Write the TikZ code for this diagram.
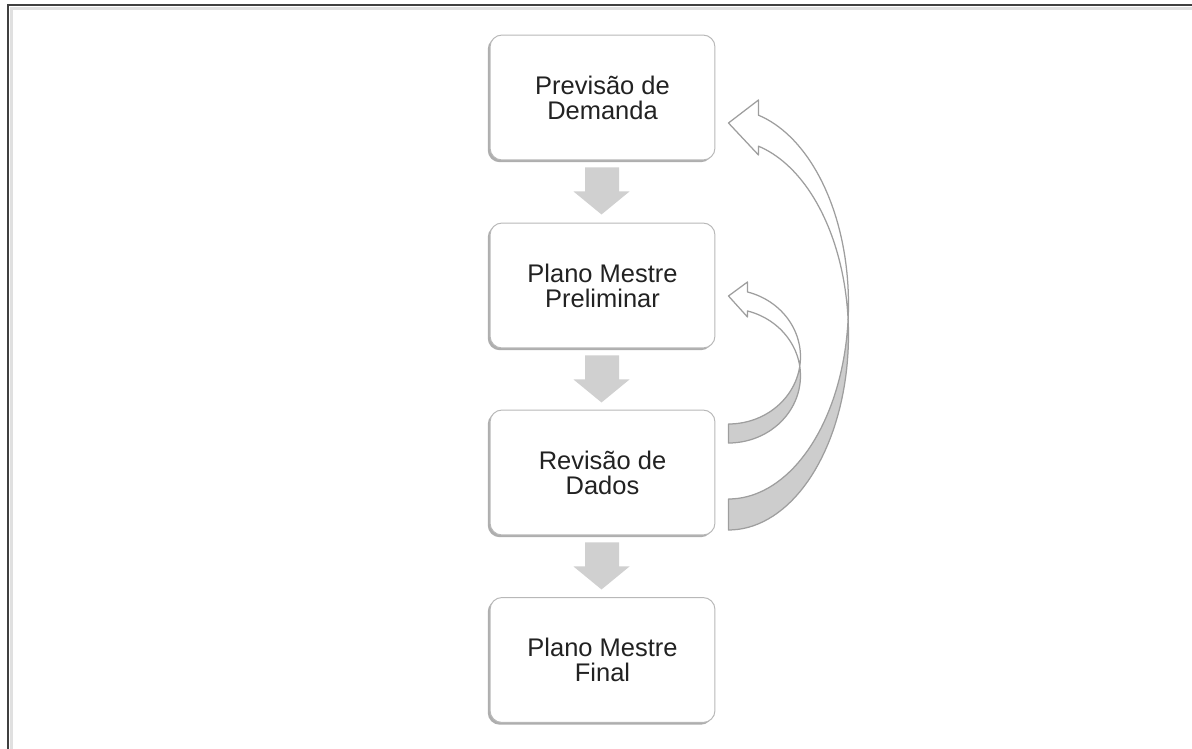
\documentclass[tikz,border=0pt]{standalone}
\usepackage{fontspec}
\setmainfont{Liberation Sans}
\usetikzlibrary{calc,shadows}
\definecolor{boxline}{HTML}{B8B8B8}
\definecolor{arrowgray}{HTML}{D0D0D0}
\definecolor{curveline}{HTML}{9E9E9E}
\definecolor{curvefill}{HTML}{CDCDCD}
\definecolor{textgray}{HTML}{222222}
\definecolor{framegray}{HTML}{404040}
\tikzset{
	stepbox/.style={draw=boxline, line width=0.02cm, fill=white, rounded corners=0.24cm,
		minimum width=4.5cm, minimum height=2.5cm, align=center, text=textgray,
		font=\fontsize{14.5}{14.2}\selectfont,
		drop shadow={shadow xshift=-0.045cm, shadow yshift=-0.045cm, fill=black!70, opacity=0.45}},
	blockarrow/.style={fill=arrowgray},
	curvefront/.style={draw=curveline, line width=0.025cm, fill=white, line join=round},
	curveback/.style={draw=curveline, line width=0.025cm, fill=curvefill, line join=round},
	frameline/.style={draw=framegray, line width=0.04cm}
}

\begin{document}
\begin{tikzpicture}[x=0.02cm, y=-0.02cm]
	%%%%% START %%%%%
	\useasboundingbox (0,0) rectangle (1192,749);
	
	\draw[black!12, line width=0.06cm] (11.5,749) -- (11.5,8.5) -- (1192,8.5);
	\draw[frameline] (8,749) -- (8,5) -- (1192,5);
	
	\node[stepbox] (prev) at (602.5, 97.5) {Previsão de\\Demanda};
	\node[stepbox] (pmp) at (602.5, 285.5) {Plano Mestre\\Preliminar};
	\node[stepbox] (rev) at (602.5, 472.5) {Revisão de\\Dados};
	\node[stepbox] (pmf) at (602.5, 660) {Plano Mestre\\Final};
	
	\foreach \a in {prev, pmp, rev}
	{
		\fill[blockarrow] ($(\a.south)+(-17.5,7)$) -- ($(\a.south)+(16.5,7)$) -- ($(\a.south)+(16.5,31)$)
			-- ($(\a.south)+(27,31)$) -- ($(\a.south)+(-1,54)$) -- ($(\a.south)+(-29,31)$)
			-- ($(\a.south)+(-17.5,31)$) -- cycle;
	}
	
	\coordinate (bigc) at ($(rev.east)+(13,-168.5)$);
	\coordinate (smallc) at ($(rev.east)+(13,-115.7)$);
	
	% back to Previsao de Demanda
	\begin{scope}[shift={(bigc)}]
		\filldraw[curveback] plot[domain=-4.56:90, samples=40] ({120*cos(\x)},{31+195*sin(\x)})
			-- plot[domain=90:4.56, samples=40] ({120*cos(\x)},{195*sin(\x)}) -- cycle;
		\filldraw[curvefront] plot[domain=-75.52:-4.56, samples=40] ({120*cos(\x)},{31+195*sin(\x)})
			-- plot[domain=4.56:-75.52, samples=40] ({120*cos(\x)},{195*sin(\x)})
			-- (30,-204) -- (0,-181) -- (30,-149) -- cycle;
	\end{scope}
	
	% back to Plano Mestre Preliminar
	\begin{scope}[shift={(smallc)}]
		\filldraw[curveback] plot[domain=-8.13:90, samples=30] ({72*cos(\x)},{19+67.2*sin(\x)})
			-- plot[domain=90:8.13, samples=30] ({72*cos(\x)},{67.2*sin(\x)}) -- cycle;
		\filldraw[curvefront] plot[domain=-74.7:-8.13, samples=30] ({72*cos(\x)},{19+67.2*sin(\x)})
			-- plot[domain=8.13:-74.7, samples=30] ({72*cos(\x)},{67.2*sin(\x)})
			-- (19,-74.8) -- (0,-60.8) -- (19,-39.8) -- cycle;
	\end{scope}
	
	%%%%% END %%%%%
\end{tikzpicture}
\end{document}
